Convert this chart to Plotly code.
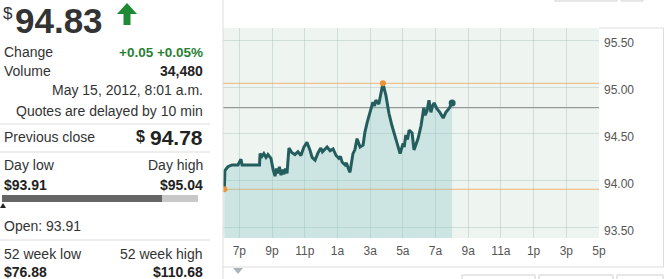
import plotly.graph_objects as go

# ---------------- data ----------------
times = [
    "2012-05-14 18:05", "2012-05-14 18:07", "2012-05-14 18:18", "2012-05-14 18:33", "2012-05-14 18:55",
    "2012-05-14 19:06", "2012-05-14 19:10", "2012-05-14 19:39", "2012-05-14 20:14", "2012-05-14 20:16",
    "2012-05-14 20:23", "2012-05-14 20:30", "2012-05-14 20:38", "2012-05-14 20:45", "2012-05-14 20:56",
    "2012-05-14 21:04", "2012-05-14 21:11", "2012-05-14 21:16", "2012-05-14 21:22", "2012-05-14 21:27",
    "2012-05-14 21:33", "2012-05-14 21:38", "2012-05-14 21:44", "2012-05-14 21:49", "2012-05-14 21:55",
    "2012-05-14 22:02", "2012-05-14 22:13", "2012-05-14 22:24", "2012-05-14 22:35", "2012-05-14 22:46",
    "2012-05-14 22:57", "2012-05-14 23:08", "2012-05-14 23:19", "2012-05-14 23:27", "2012-05-14 23:38",
    "2012-05-14 23:49", "2012-05-14 23:59", "2012-05-15 00:05", "2012-05-15 00:11", "2012-05-15 00:22",
    "2012-05-15 00:33", "2012-05-15 00:44", "2012-05-15 00:55", "2012-05-15 01:05", "2012-05-15 01:11",
    "2012-05-15 01:17", "2012-05-15 01:28", "2012-05-15 01:33", "2012-05-15 01:39", "2012-05-15 01:46",
    "2012-05-15 01:57", "2012-05-15 02:04", "2012-05-15 02:12", "2012-05-15 02:23", "2012-05-15 02:34",
    "2012-05-15 02:41", "2012-05-15 02:49", "2012-05-15 02:59", "2012-05-15 03:10", "2012-05-15 03:16",
    "2012-05-15 03:21", "2012-05-15 03:32", "2012-05-15 03:47", "2012-05-15 03:58", "2012-05-15 04:09",
    "2012-05-15 04:20", "2012-05-15 04:28", "2012-05-15 04:38", "2012-05-15 04:50", "2012-05-15 05:01",
    "2012-05-15 05:05", "2012-05-15 05:11", "2012-05-15 05:17", "2012-05-15 05:23", "2012-05-15 05:34",
    "2012-05-15 05:41", "2012-05-15 05:56", "2012-05-15 06:07", "2012-05-15 06:17", "2012-05-15 06:22",
    "2012-05-15 06:29", "2012-05-15 06:36", "2012-05-15 06:43", "2012-05-15 06:49", "2012-05-15 06:55",
    "2012-05-15 07:05", "2012-05-15 07:16", "2012-05-15 07:28", "2012-05-15 07:38", "2012-05-15 07:49",
    "2012-05-15 08:01",
]
prices = [
    93.91, 94.11, 94.15, 94.17, 94.17,
    94.23, 94.17, 94.17, 94.17, 94.29,
    94.26, 94.29, 94.25, 94.28, 94.24,
    94.12, 94.05, 94.13, 94.08, 94.15,
    94.06, 94.12, 94.07, 94.13, 94.08,
    94.35, 94.30, 94.28, 94.31, 94.27,
    94.36, 94.41, 94.33, 94.25, 94.22,
    94.30, 94.35, 94.31, 94.33, 94.36,
    94.32, 94.34, 94.27, 94.24, 94.26,
    94.20, 94.17, 94.19, 94.14, 94.09,
    94.29, 94.33, 94.45, 94.36, 94.38,
    94.52, 94.62, 94.73, 94.84, 94.80,
    94.86, 94.82, 95.04, 94.91, 94.72,
    94.59, 94.52, 94.41, 94.29, 94.40,
    94.36, 94.49, 94.44, 94.54, 94.51,
    94.33, 94.45, 94.59, 94.78, 94.70,
    94.75, 94.86, 94.73, 94.80, 94.83,
    94.77, 94.73, 94.67, 94.73, 94.77,
    94.83,
]
x_ticks = ["2012-05-14 19:00", "2012-05-14 21:00", "2012-05-14 23:00", "2012-05-15 01:00",
           "2012-05-15 03:00", "2012-05-15 05:00", "2012-05-15 07:00", "2012-05-15 09:00",
           "2012-05-15 11:00", "2012-05-15 13:00", "2012-05-15 15:00", "2012-05-15 17:00"]
x_tick_labels = ["7p", "9p", "11p", "1a", "3a", "5a", "7a", "9a", "11a", "1p", "3p", "5p"]
y_ticks = [93.5, 94.0, 94.5, 95.0, 95.5]
y_tick_labels = ["93.50", "94.00", "94.50", "95.00", "95.50"]
x_range = ["2012-05-14 18:00", "2012-05-15 17:00"]
y_range = [93.39, 95.63]

last_price = 94.83
prev_close = 94.78
day_low = 93.91
day_high = 95.04
open_price = 93.91
high_time = "2012-05-15 03:47"

# ---------------- layout helpers ----------------
W, H = 667, 279
L, R, T, B = 223, 68, 28, 41
PW, PH = W - L - R, H - T - B
FONT = "Arial, Liberation Sans, sans-serif"


def px(x):
    return (x - L) / PW


def py(y):
    return (H - B - y) / PH


fig = go.Figure()

# area + line
fig.add_trace(go.Scatter(
    x=times, y=prices, mode="lines",
    line=dict(color="#245d5e", width=3),
    fill="tozeroy", fillcolor="rgba(120,190,185,0.27)",
    hoverinfo="skip", showlegend=False,
))
# markers: open, high, last
fig.add_trace(go.Scatter(
    x=[times[0], high_time], y=[open_price, day_high], mode="markers",
    marker=dict(color="#ee9433", size=6), showlegend=False, hoverinfo="skip",
))
fig.add_trace(go.Scatter(
    x=[times[-1]], y=[last_price], mode="markers",
    marker=dict(color="#245d5e", size=7), showlegend=False, hoverinfo="skip",
))

shapes = []
# reference lines
for val, col in [(day_high, "#f2b47a"), (day_low, "#f2b47a"), (prev_close, "#808080")]:
    shapes.append(dict(type="line", xref="paper", yref="y", x0=0, x1=1, y0=val, y1=val,
                       line=dict(color=col, width=1), layer="below"))

frame_col = "#dcdcdc"
# frame lines
shapes += [
    dict(type="line", xref="paper", yref="paper", x0=px(223), x1=px(223), y0=py(-2), y1=py(281),
         line=dict(color=frame_col, width=1)),
    dict(type="line", xref="paper", yref="paper", x0=px(223), x1=px(663.5), y0=py(267), y1=py(267),
         line=dict(color=frame_col, width=1)),
    dict(type="line", xref="paper", yref="paper", x0=px(663.5), x1=px(663.5), y0=py(28), y1=py(267),
         line=dict(color=frame_col, width=1)),
    dict(type="line", xref="paper", yref="paper", x0=px(599), x1=px(663.5), y0=py(28), y1=py(28),
         line=dict(color=frame_col, width=1)),
]
# buttons (partially visible)
for x0, x1, y0, y1 in [(555, 617, -10, 1), (621, 643, -10, 1),
                       (462, 535, 275, 290), (539, 613, 275, 290), (617, 663, 275, 290)]:
    shapes.append(dict(type="rect", xref="paper", yref="paper", x0=px(x0), x1=px(x1), y0=py(y0), y1=py(y1),
                       line=dict(color="#cfcfcf", width=1), fillcolor="white"))
# small triangle under axis
shapes.append(dict(type="path", xref="paper", yref="paper",
                   path=f"M {px(233)} {py(268)} L {px(243)} {py(268)} L {px(238)} {py(274)} Z",
                   fillcolor="#a9b3b8", line=dict(width=0)))

# left panel separators
for yy in [124, 152, 240]:
    shapes.append(dict(type="line", xref="paper", yref="paper", x0=px(0), x1=px(210), y0=py(yy), y1=py(yy),
                       line=dict(color="#dddddd", width=1)))
# day range bar
shapes.append(dict(type="rect", xref="paper", yref="paper", x0=px(2), x1=px(198), y0=py(202), y1=py(195),
                   fillcolor="#c8c8c8", line=dict(width=0)))
shapes.append(dict(type="rect", xref="paper", yref="paper", x0=px(2), x1=px(162), y0=py(202), y1=py(195),
                   fillcolor="#666666", line=dict(width=0)))
shapes.append(dict(type="path", xref="paper", yref="paper",
                   path=f"M {px(0)} {py(208)} L {px(6)} {py(208)} L {px(3)} {py(203)} Z",
                   fillcolor="#222222", line=dict(width=0)))
# green up arrow
shapes.append(dict(type="path", xref="paper", yref="paper",
                   path=(f"M {px(127)} {py(3)} L {px(137)} {py(14)} L {px(130.5)} {py(14)} "
                         f"L {px(130.5)} {py(25)} L {px(123.5)} {py(25)} L {px(123.5)} {py(14)} "
                         f"L {px(117)} {py(14)} Z"),
                   fillcolor="#1f8a36", line=dict(width=0)))

annotations = []


def ann(x, y, text, anchor="left", size=14, bold=False, color="#333333"):
    if bold:
        text = f"<b>{text}</b>"
    annotations.append(dict(x=px(x), y=py(y), xref="paper", yref="paper", text=text, showarrow=False,
                            xanchor=anchor, yanchor="middle", font=dict(family=FONT, size=size, color=color)))


ann(1, 13, "$", size=17, color="#333333")
ann(13, 21, f"{last_price:.2f}", size=35, bold=True, color="#333333")
ann(2, 52, "Change")
ann(205, 52, "+0.05 +0.05%", anchor="right", size=13.5, bold=True, color="#2a7f36")
ann(2, 71, "Volume")
ann(205, 71, "34,480", anchor="right", size=14, bold=True, color="#222222")
ann(205, 90, "May 15, 2012, 8:01 a.m.", anchor="right")
ann(205, 111, "Quotes are delayed by 10 min", anchor="right")
ann(2, 137, "Previous close")
ann(147, 136, "$", anchor="right", size=16, bold=True, color="#222222")
ann(205, 137, f"{prev_close:.2f}", anchor="right", size=21, bold=True, color="#222222")
ann(2, 165, "Day low")
ann(205, 165, "Day high", anchor="right")
ann(2, 185, f"${day_low:.2f}", size=14, bold=True, color="#222222")
ann(205, 185, f"${day_high:.2f}", anchor="right", size=14, bold=True, color="#222222")
ann(2, 226, f"Open: {open_price:.2f}")
ann(2, 254, "52 week low")
ann(205, 254, "52 week high", anchor="right")
ann(2, 272, "$76.88", size=14, bold=True, color="#222222")
ann(205, 272, "$110.68", anchor="right", size=14, bold=True, color="#222222")

fig.update_layout(
    width=W, height=H,
    margin=dict(l=L, r=R, t=T, b=B, pad=0),
    paper_bgcolor="white", plot_bgcolor="#eef5f1",
    font=dict(family=FONT, size=12, color="#555555"),
    showlegend=False,
    shapes=shapes, annotations=annotations,
    xaxis=dict(range=x_range, tickvals=x_ticks, ticktext=x_tick_labels, showgrid=True,
               gridcolor="rgba(150,180,175,0.35)", zeroline=False, showline=False, ticks="",
               tickfont=dict(size=12, color="#555555"), ticklabelstandoff=4, fixedrange=True),
    yaxis=dict(range=y_range, tickvals=y_ticks, ticktext=y_tick_labels, side="right", showgrid=True,
               gridcolor="rgba(150,180,175,0.35)", zeroline=False, showline=False, ticks="",
               tickfont=dict(size=12, color="#555555"), ticklabelstandoff=4, ticklabelshift=3,
               fixedrange=True),
)

fig.write_html("out.html")
